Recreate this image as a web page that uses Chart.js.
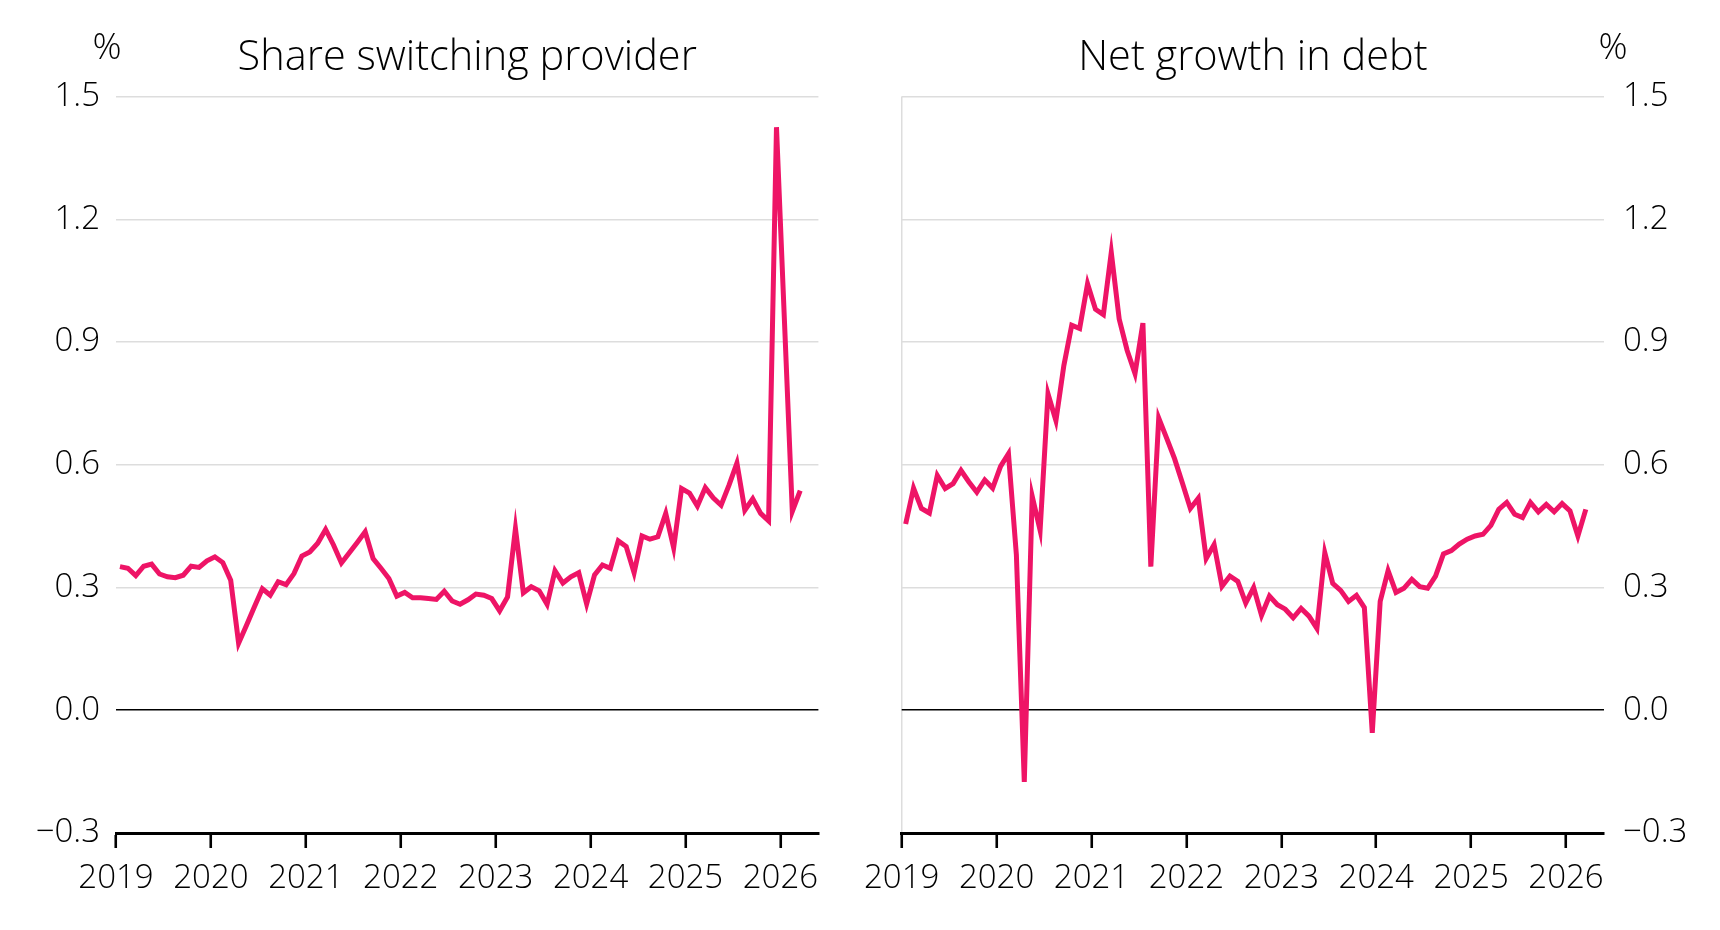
<!DOCTYPE html>
<html><head><meta charset="utf-8">
<script src="https://cdn.jsdelivr.net/npm/chart.js@4.4.1/dist/chart.umd.min.js"></script>
<style>
html,body{margin:0;padding:0;background:#fff;}
#wrap{position:relative;width:1720px;height:930px;overflow:hidden;}
.panel{position:absolute;top:0;height:930px;}
#p1{left:0;width:860px;}
#p2{left:830px;width:890px;}
</style></head><body>
<div id="wrap">
  <div class="panel" id="p1"><canvas id="c1" width="860" height="930"></canvas></div>
  <div class="panel" id="p2"><canvas id="c2" width="890" height="930"></canvas></div>
</div>
<script>
// ---- data ----
const firstMonth = "2019-01";
const switching = [
  0.351,0.347,0.329,0.352,0.357,0.333,0.326,0.324,0.330,0.352,0.349,0.365,
  0.375,0.361,0.318,0.164,0.208,0.253,0.297,0.281,0.314,0.307,0.334,0.377,
  0.387,0.408,0.442,0.404,0.360,0.385,0.410,0.436,0.371,0.347,0.322,0.279,
  0.288,0.275,0.275,0.273,0.271,0.291,0.267,0.259,0.270,0.284,0.281,0.273,
  0.243,0.277,0.444,0.287,0.302,0.292,0.259,0.341,0.311,0.326,0.336,0.260,
  0.331,0.355,0.347,0.414,0.400,0.336,0.426,0.418,0.424,0.481,0.397,0.542,
  0.531,0.499,0.544,0.519,0.501,0.550,0.604,0.489,0.517,0.481,0.463,1.425,
  0.955,0.486,0.537
];
const debtGrowth = [
  0.455,0.543,0.493,0.482,0.574,0.542,0.554,0.586,0.558,0.533,0.563,0.543,
  0.596,0.627,0.380,-0.175,0.523,0.440,0.773,0.708,0.842,0.941,0.933,1.042,
  0.980,0.967,1.119,0.956,0.880,0.823,0.946,0.351,0.714,0.665,0.615,0.555,
  0.493,0.518,0.371,0.405,0.303,0.328,0.315,0.262,0.300,0.232,0.279,0.258,
  0.247,0.226,0.249,0.230,0.200,0.385,0.310,0.293,0.266,0.281,0.251,-0.055,
  0.266,0.341,0.288,0.298,0.320,0.302,0.298,0.328,0.382,0.390,0.406,0.418,
  0.426,0.430,0.452,0.491,0.508,0.479,0.471,0.508,0.485,0.503,0.485,0.505,
  0.487,0.426,0.491
];
const yTicks = [-0.3, 0, 0.3, 0.6, 0.9, 1.2, 1.5];
const xTicks = [2019, 2020, 2021, 2022, 2023, 2024, 2025, 2026];
const xEnd = 2026.4;
const titles = ["Share switching provider", "Net growth in debt"];
const unitLabel = "%";

// ---- helpers ----
const FONT = "'Open Sans', 'Noto Sans', sans-serif";
const LINE_COLOR = '#EE1466';
function monthPositions(n){
  const [y0, m0] = firstMonth.split('-').map(Number);
  const out = [];
  for (let i = 0; i < n; i++){
    const mIdx = (m0 - 1) + i;
    const yr = y0 + Math.floor(mIdx / 12);
    const mo = mIdx % 12;
    out.push(yr + (mo + 0.5) / 12);
  }
  return out;
}
function fmtY(v){
  const s = (Math.abs(v) < 1e-9 ? 0 : v).toFixed(1);
  return s.replace('-', '\u2212');
}

const unitPlugin = {
  id: 'unitLabel',
  afterDraw(chart, args, opts){
    const {ctx, chartArea} = chart;
    ctx.save();
    ctx.font = '300 36px ' + FONT;
    ctx.fillStyle = '#000';
    ctx.textAlign = 'center';
    ctx.textBaseline = 'middle';
    const x = opts.side === 'left' ? chartArea.left - 9 : chartArea.right + 9;
    ctx.fillText(opts.text, x, chartArea.top - 48);
    ctx.restore();
  }
};

function makeChart(canvasId, values, title, side){
  const xs = monthPositions(values.length);
  const pts = values.map((v, i) => ({x: xs[i], y: v}));
  return new Chart(document.getElementById(canvasId), {
    type: 'line',
    data: { datasets: [{
      data: pts,
      borderColor: LINE_COLOR,
      borderWidth: 5,
      pointRadius: 0,
      tension: 0,
      fill: false,
      clip: false
    }]},
    plugins: [unitPlugin],
    options: {
      responsive: false,
      animation: false,
      devicePixelRatio: 1,
      layout: { padding: side === 'left' ? {left: 0, right: 41.6, top: 0, bottom: 0}
                                          : {left: 71.7, right: 0, top: 0, bottom: 0} },
      plugins: {
        legend: { display: false },
        tooltip: { enabled: false },
        title: {
          display: true,
          text: title,
          fullSize: false,
          color: '#000',
          font: { family: FONT, size: 41.5, weight: '300', lineHeight: 1.2 },
          padding: { top: 33, bottom: 13.7 }
        },
        unitLabel: { text: unitLabel, side: side }
      },
      scales: {
        x: {
          type: 'linear',
          min: xTicks[0],
          max: xEnd,
          afterBuildTicks: s => { s.ticks = xTicks.map(v => ({value: v})); },
          afterFit: s => { s.height = 97; },
          ticks: {
            color: '#000',
            padding: 11,
            maxRotation: 0,
            autoSkip: false,
            font: { family: FONT, size: 33, weight: '300' },
            callback: v => String(v)
          },
          grid: {
            display: true,
            drawOnChartArea: side === 'right',
            color: c => (c.index === 0 ? '#dddddd' : 'rgba(0,0,0,0)'),
            lineWidth: 1.5,
            drawTicks: true,
            tickLength: 15,
            tickColor: '#000',
            tickWidth: 2.6
          },
          border: { display: true, color: '#000', width: 3 }
        },
        y: {
          position: side,
          min: yTicks[0],
          max: yTicks[yTicks.length - 1],
          afterBuildTicks: s => { s.ticks = yTicks.map(v => ({value: v})); },
          afterFit: s => { s.width = 116; },
          ticks: {
            color: '#000',
            padding: side === 'left' ? 16 : 19,
            font: { family: FONT, size: 33, weight: '300' },
            callback: v => fmtY(v)
          },
          grid: {
            drawTicks: false,
            color: c => (Math.abs(c.tick.value) < 1e-9 ? '#000' : '#dddddd'),
            lineWidth: c => (Math.abs(c.tick.value) < 1e-9 ? 1.6 : 1.4)
          },
          border: { display: false }
        }
      }
    }
  });
}

makeChart('c1', switching, titles[0], 'left');
makeChart('c2', debtGrowth, titles[1], 'right');
</script>
</body></html>
